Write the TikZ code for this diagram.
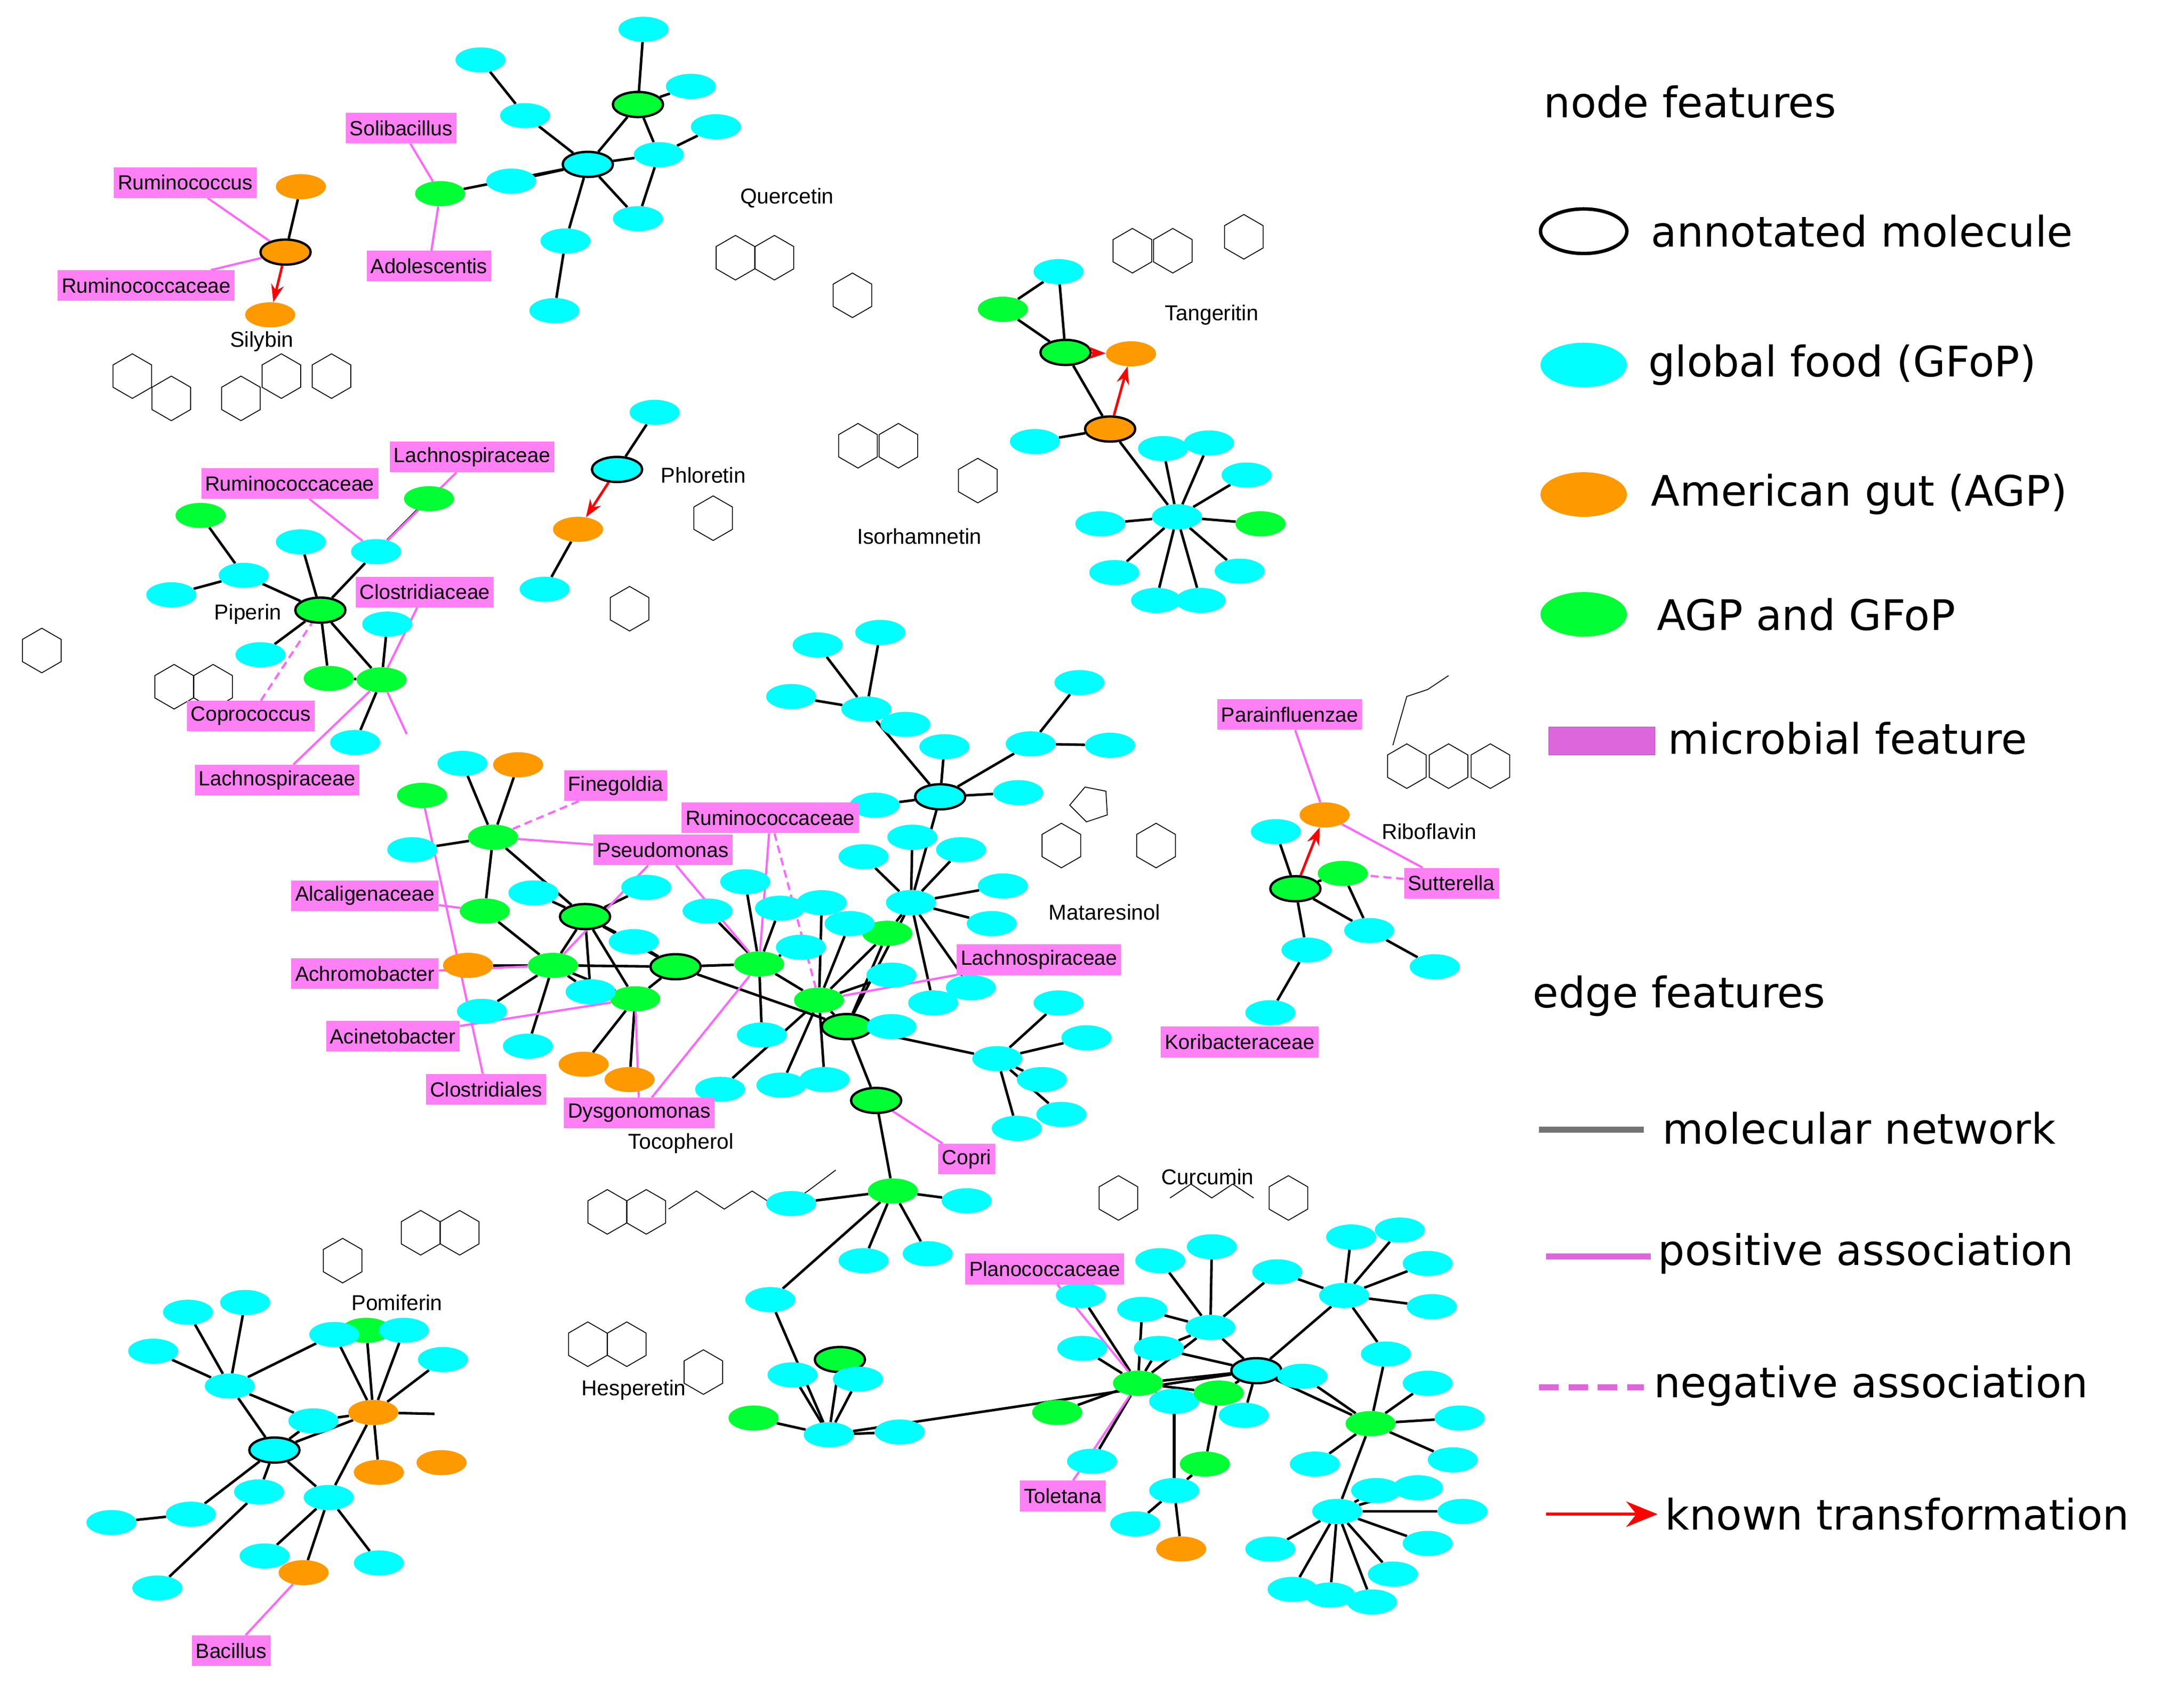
\documentclass[tikz,border=0pt]{standalone}
\usepackage{fontspec}
\setmainfont{Liberation Sans}
\newfontfamily\legf{DejaVu Sans}
\usetikzlibrary{shapes.geometric,arrows.meta,backgrounds}
\definecolor{gfc}{HTML}{00FFFF}
\definecolor{agc}{HTML}{FF9900}
\definecolor{boc}{HTML}{00FF33}
\definecolor{pinkc}{HTML}{FF80F5}
\definecolor{pinkl}{HTML}{FF66FF}
\definecolor{legpink}{HTML}{DD66DD}
\tikzset{
 n/.style={ellipse,minimum width=1.8cm,minimum height=0.9cm,inner sep=0pt,draw=none},
 gf/.style={n,fill=gfc}, ag/.style={n,fill=agc}, bo/.style={n,fill=boc},
 an/.style={draw=black,line width=2.4pt},
 lab/.style={fill=pinkc,font=\fontsize{21}{23}\selectfont,inner sep=4pt,minimum height=1.1cm},
 mname/.style={font=\fontsize{22}{24}\selectfont},
 e/.style={line width=2.6pt,black},
 pe/.style={pinkl,line width=2.2pt},
 ne/.style={pe,dash pattern=on 8pt off 5pt},
 tr/.style={red,line width=2.6pt,-{Stealth[length=18pt,width=13pt]}},
 mol/.style={black,line width=0.9pt},
 leg/.style={font=\legf\fontsize{43}{46}\selectfont,anchor=west}
}
\newcommand\hexr[2]{\draw[mol] (#1,#2) +(30:16) -- +(90:16) -- +(150:16) -- +(210:16) -- +(270:16) -- +(330:16) -- cycle;}
\begin{document}
\begin{tikzpicture}[x=0.05cm,y=-0.05cm]
\useasboundingbox (0,0) rectangle (1568,1213);
% ---------- molecule sketches
\foreach \a/\b in {95/270,123/286,173/286,202/270,238/270, 528/185,556/185,612/212, 813/180,842/180,893/170, 616/320,645/320,702/345, 512/372,452/437, 30/467,125/493,153/493, 1010/550,1040/550,1070/550, 762/607,830/607, 436/870,464/870, 803/860,925/860, 246/905,302/885,330/885, 422/965,450/965,505/985}{\hexr{\a}{\b}}
\draw[mol] (779,565) -- (768,578) -- (780,590) -- (795,585) -- (794,568) -- cycle;
\draw[mol] (480,868) -- (500,855) -- (520,868) -- (540,855) -- (560,868) -- (580,855) -- (600,840);
\draw[mol] (840,860) -- (855,850) -- (870,860) -- (885,850) -- (900,860);
\draw[mol] (1000,535) -- (1010,500) -- (1025,495) -- (1040,485);
% ---------- nodes: top cluster
\node[gf,an] (ta) at (422,118) {}; \node[bo,an] (tb) at (458,75) {};
\node[gf] (t1) at (345,43) {}; \node[gf] (t2) at (462,21) {}; \node[gf] (t3) at (377,83) {};
\node[gf] (t4) at (496,62) {}; \node[gf] (t5) at (514,91) {}; \node[gf] (t6) at (473,111) {};
\node[gf] (t7) at (367,130) {}; \node[gf] (t8) at (458,157) {}; \node[gf] (t9) at (406,173) {};
\node[gf] (t10) at (398,223) {}; \node[bo] (tg) at (316,139) {};
% silybin
\node[ag,an] (sa) at (205,181) {}; \node[ag] (sb) at (216,134) {}; \node[ag] (sc) at (194,226) {};
% tangeritin
\node[bo,an] (ka) at (765,253) {}; \node[gf] (k1) at (760,195) {}; \node[bo] (kg) at (720,222) {};
\node[ag] (ko) at (812,254) {}; \node[ag,an] (kb) at (797,308) {}; \node[gf] (k2) at (743,317) {};
\node[gf] (kh) at (845,371) {};
\node[gf] (k3) at (790,376) {}; \node[gf] (k4) at (800,411) {}; \node[gf] (k5) at (830,431) {};
\node[gf] (k6) at (862,431) {}; \node[gf] (k7) at (890,410) {}; \node[bo] (k8) at (905,376) {};
\node[gf] (k9) at (895,341) {}; \node[gf] (k10) at (868,318) {}; \node[gf] (k11) at (835,322) {};
% phloretin
\node[gf,an] (pa) at (443,337) {}; \node[gf] (p1) at (470,296) {}; \node[ag] (po) at (415,380) {}; \node[gf] (p2) at (391,423) {};
% piperin
\node[bo,an] (qa) at (230,438) {}; \node[gf] (q1) at (175,413) {}; \node[bo] (q2) at (144,370) {};
\node[gf] (q3) at (123,427) {}; \node[gf] (q4) at (216,389) {}; \node[gf] (q5) at (270,396) {};
\node[bo] (q6) at (308,358) {}; \node[gf] (q7) at (187,470) {}; \node[gf] (q8) at (278,448) {};
\node[bo] (q9) at (236,487) {}; \node[bo] (q10) at (274,488) {}; \node[gf] (q11) at (255,533) {};
\coordinate (qx) at (292,527);
% central
\node[bo,an] (g1) at (420,658) {}; \node[bo,an] (g2) at (485,694) {}; \node[bo,an] (g3) at (608,737) {};
\node[gf,an] (ca) at (675,572) {}; \node[bo,an] (g4) at (629,790) {};
\node[bo] (b1) at (354,601) {}; \node[bo] (b2) at (348,654) {}; \node[bo] (b3) at (397,693) {};
\node[bo] (b4) at (456,717) {}; \node[bo] (b5) at (545,692) {}; \node[bo] (b6) at (588,718) {};
\node[bo] (b7) at (637,670) {}; \node[bo] (b8) at (641,855) {}; \node[bo] (b9) at (303,571) {};
\node[ag] (o1) at (372,549) {}; \node[ag] (o2) at (336,693) {}; \node[ag] (o3) at (419,764) {}; \node[ag] (o4) at (452,775) {};
\foreach \nm/\a/\b in {c1/332/548,c2/296/610,c3/383/641,c4/464/637,c5/455/676,c6/424/712,c7/346/726,c8/379/751,c9/508/654,c10/535/633,c11/560/652,c12/590/648,c13/575/680,c14/610/663,c15/654/648,c16/690/610,c17/720/636,c18/712/663,c19/697/709,c20/670/720,c21/640/700,c22/620/615,c23/655/601,c25/628/578,c26/622/509,c27/587/463,c28/632/454,c29/568/500,c30/650/520,c31/678/536,c32/731/569,c33/740/534,c34/775/490,c35/797/535,c36/547/743,c37/561/779,c38/592/775,c39/517/782,c40/640/737,c41/716/760,c42/760/720,c43/780/745,c44/748/775,c45/762/800,c46/730/810,c47/620/905,c48/666/900,c49/694/862,c50/568/864,c51/553/933}{\node[gf] (\nm) at (\a,\b) {};}
% hesperetin
\node[gf] (hp) at (595,1030) {}; \node[bo,an] (ha) at (603,976) {}; \node[bo] (hg) at (541,1018) {};
\node[gf] (h1) at (569,987) {}; \node[gf] (h2) at (616,990) {}; \node[gf] (h3) at (646,1028) {};
% lower right
\node[gf,an] (ra) at (902,984) {};
\foreach \nm/\a/\b in {r3/869/953,r4/832/968,r5/820/940,r6/777/968,r7/776/930,r9/784/1049,r10/843/1006,r11/843/1070,r13/815/1094,r15/893/1016,r16/935/988,r17/944/1051,r18/917/913,r19/965/930,r20/970/888,r21/1005/883,r22/1025/907,r23/1028/938,r24/995/972,r26/1025/993,r27/1048/1018,r28/1043/1048,r29/960/1085,r30/912/1112,r31/928/1141,r32/955/1145,r33/985/1150,r34/1000/1130,r35/988/1070,r36/1018/1068,r37/1050/1085,r38/1025/1108,r39/833/905,r40/870/895}{\node[gf] (\nm) at (\a,\b) {};}
\node[bo] (r1) at (817,993) {}; \node[bo] (r2) at (875,1000) {}; \node[bo] (r8) at (759,1014) {};
\node[ag] (r12) at (848,1112) {}; \node[bo] (r14) at (865,1051) {}; \node[bo] (r25) at (984,1022) {};
% bottom left
\node[bo] (l6) at (263,955) {};
\node[gf,an] (la) at (197,1041) {};
\foreach \nm/\a/\b in {l1/110/970,l2/135/942,l3/176/935,l4/165/995,l5/240/958,l7/290/955,l8/318/976,l9/225/1020,l10/186/1071,l11/236/1075,l12/137/1087,l13/80/1093,l14/113/1140,l15/190/1117,l16/272/1122}{\node[gf] (\nm) at (\a,\b) {};}
\node[ag] (lo1) at (268,1014) {}; \node[ag] (lo2) at (272,1057) {}; \node[ag] (lo3) at (317,1050) {}; \node[ag] (lo4) at (218,1129) {};
\coordinate (lx) at (312,1015);
% riboflavin
\node[bo,an] (ya) at (930,638) {}; \node[ag] (yo) at (951,585) {}; \node[bo] (yg) at (964,627) {};
\node[gf] (y1) at (916,597) {}; \node[gf] (y2) at (938,682) {}; \node[gf] (y3) at (912,727) {};
\node[gf] (y4) at (983,668) {}; \node[gf] (y5) at (1030,694) {};
% ---------- edges
\begin{scope}[on background layer]
\foreach \u/\v in {ta/tb,ta/t3,ta/t7,ta/t6,ta/t8,ta/t9,ta/tg,t3/t1,tb/t2,tb/t4,tb/t6,t6/t5,t9/t10,t6/t8,
 sa/sb,
 ka/k1,ka/kg,kg/k1,ka/kb,kb/k2,kb/kh,kh/k3,kh/k4,kh/k5,kh/k6,kh/k7,kh/k8,kh/k9,kh/k10,kh/k11,
 pa/p1,po/p2,
 qa/q1,q1/q2,q1/q3,qa/q4,qa/q5,q5/q6,qa/q7,qa/q9,qa/q10,q10/q8,q10/q11,q9/q10,
 b1/c1,b1/o1,b1/c2,b1/b2,b1/g1,b3/o2,b3/c7,b3/c8,b3/b2,b3/g1,b3/c6,b3/g2,b3/b4,
 g1/c3,g1/c4,g1/c5,g1/c6,g1/b4,g1/g2,g2/c5,g2/b4,g2/g3,g2/b5,b4/o3,b4/o4,
 b5/c9,b5/c10,b5/c36,b5/b6,b5/c13,b5/c11,
 b6/g3,b6/c37,b6/c38,b6/c39,b6/c12,b6/c14,b6/b7,b6/c21,
 g3/c40,g3/c41,g3/g4,g3/b7,g3/c15,
 c15/c22,c15/c23,c15/c16,c15/c17,c15/c18,c15/c19,c15/c20,c15/b7,c15/ca,
 ca/c25,ca/c32,ca/c33,ca/c31,ca/c26,c26/c27,c26/c28,c26/c29,c26/c30,c33/c34,c33/c35,
 c41/c42,c41/c43,c41/c44,c41/c45,c41/c46,
 g4/b8,b8/c49,b8/c47,b8/c48,b8/c50,b8/c51,
 c51/hp,hp/hg,hp/h1,hp/ha,hp/h2,hp/h3,hp/ra,
 ra/r1,ra/r2,ra/r3,ra/r16,ra/r15,ra/r19,ra/r25,ra/r4,
 r1/r8,r1/r6,r1/r7,r1/r9,r1/r10,r1/r4,r1/r5,r1/r2,r1/r3,
 r3/r39,r3/r40,r3/r18,r3/r4,r3/r5,
 r19/r20,r19/r21,r19/r22,r19/r23,r19/r24,r19/r18,
 r25/r26,r25/r27,r25/r28,r25/r29,r25/r17,r25/r16,r25/r24,
 r29/r30,r29/r31,r29/r32,r29/r33,r29/r34,r29/r35,r29/r36,r29/r37,r29/r38,
 r14/r11,r14/r2,r11/r12,r11/r13,r11/r10,
 la/l4,la/l9,la/l10,la/l11,la/lo1,la/l12,l4/l1,l4/l2,l4/l3,l4/l5,l4/l9,
 lo1/l6,lo1/l7,lo1/l8,lo1/lo2,lo1/l5,lo1/l11,lo1/lx,lo1/l9,l11/l16,l11/lo4,l11/l15,l10/l14,l12/l13,
 ya/y1,ya/yg,ya/y2,y2/y3,ya/y4,y4/y5,yg/y4}{\draw[e] (\u) -- (\v);}
\end{scope}
\draw[tr] (sa) -- (sc);
\draw[tr] (ka) -- (ko);
\draw[tr] (kb) -- (ko);
\draw[tr] (pa) -- (po);
\draw[tr] (ya) -- (yo);
% ---------- labels
\foreach \nm/\a/\b/\t in {L1/288/92/Solibacillus,L2/308/191/Adolescentis,L3/133/131/Ruminococcus,L4/105/205/Ruminococcaceae,L5/208/347/Ruminococcaceae,L6/339/328/Lachnospiraceae,L7/305/425/Clostridiaceae,L8/180/514/Coprococcus,L9/199/560/Lachnospiraceae,L10/442/564/Finegoldia,L11/553/587/Ruminococcaceae,L12/476/610/Pseudomonas,L13/262/643/Alcaligenaceae,L14/262/699/Achromobacter,L15/282/744/Acinetobacter,L16/349/782/Clostridiales,L17/459/799/Dysgonomonas,L18/746/689/Lachnospiraceae,L19/694/832/Copri,L20/926/513/Parainfluenzae,L21/1042/634/Sutterella,L22/890/748/Koribacteraceae,L23/750/911/Planococcaceae,L24/763/1074/Toletana,L25/166/1185/Bacillus}{\node[lab] (\nm) at (\a,\b) {\t};}
\begin{scope}[on background layer]
\foreach \u/\v in {L1/tg,L2/tg,L3/sa,L4/sa,L5/q5,L6/q5,L7/q10,L9/q10,L12/b1,L12/b3,L12/b5,L13/b2,L14/b3,L15/b4,L16/b9,L17/b5,L17/b4,L18/b6,L19/g4,L20/yo,L21/yo,L23/r1,L24/r1,L25/lo4,L11/b5}{\draw[pe] (\u) -- (\v);}
\draw[pe] (q10) -- (qx);
\foreach \u/\v in {L8/qa,L10/b1,L11/b6,L21/yg}{\draw[ne] (\u) -- (\v);}
\end{scope}
% molecule names
\node[mname] (nm1) at (188,245) {Silybin};
\node[mname] (nm2) at (565,142) {Quercetin};
\node[mname] (nm3) at (870,226) {Tangeritin};
\node[mname] (nm4) at (505,341) {Phloretin};
\node[mname] (nm5) at (660,385) {Isorhamnetin};
\node[mname] (nm6) at (178,441) {Piperin};
\node[mname] (nm7) at (1026,597) {Riboflavin};
\node[mname] (nm8) at (793,655) {Mataresinol};
\node[mname] (nm9) at (489,821) {Tocopherol};
\node[mname] (nm10) at (867,845) {Curcumin};
\node[mname] (nm11) at (285,935) {Pomiferin};
\node[mname] (nm12) at (455,998) {Hesperetin};
% ---------- legend
\node[leg] (lg1) at (1106,73) {node features};
\node[ellipse,minimum width=3.1cm,minimum height=1.6cm,draw=black,line width=3.5pt,fill=white] (le1) at (1137,166) {};
\node[leg] (lt1) at (1183,166) {annotated molecule};
\node[ellipse,minimum width=3.1cm,minimum height=1.6cm,fill=gfc] (le2) at (1137,262) {};
\node[leg] (lt2) at (1181,262) {global food (GFoP)};
\node[ellipse,minimum width=3.1cm,minimum height=1.6cm,fill=agc] (le3) at (1137,355) {};
\node[leg] (lt3) at (1183,355) {American gut (AGP)};
\node[ellipse,minimum width=3.1cm,minimum height=1.6cm,fill=boc] (le4) at (1137,441) {};
\node[leg] (lt4) at (1187,441) {AGP and GFoP};
\node[rectangle,minimum width=3.8cm,minimum height=1cm,fill=legpink,draw=legpink!80!black] (le5) at (1150,532) {};
\node[leg] (lt5) at (1195,530) {microbial feature};
\node[leg] (lg2) at (1098,715) {edge features};
\coordinate (a1) at (1105,811); \coordinate (b1e) at (1180,811);
\draw[line width=6pt,gray!90!black] (a1) -- (b1e);
\node[leg] (lt6) at (1191,810) {molecular network};
\coordinate (a2) at (1110,902); \coordinate (b2e) at (1185,902);
\draw[line width=6pt,legpink] (a2) -- (b2e);
\node[leg] (lt7) at (1188,900) {positive association};
\coordinate (a3) at (1105,996); \coordinate (b3e) at (1180,996);
\draw[line width=6pt,legpink,dash pattern=on 20pt off 10pt] (a3) -- (b3e);
\node[leg] (lt8) at (1185,995) {negative association};
\coordinate (a4) at (1110,1087); \coordinate (b4e) at (1190,1087);
\draw[red,line width=3pt,-{Stealth[length=32pt,width=26pt]}] (a4) -- (b4e);
\node[leg] (lt9) at (1193,1087) {known transformation};
\end{tikzpicture}
\end{document}
